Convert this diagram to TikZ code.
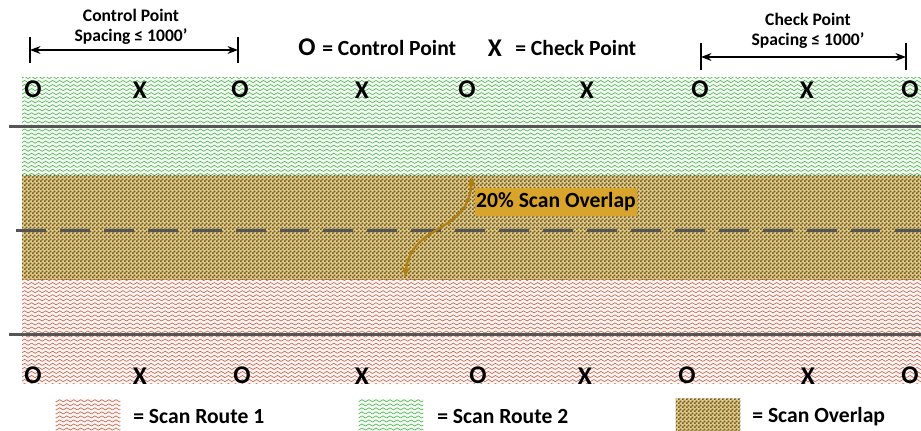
\documentclass[tikz,border=0pt]{standalone}
\usepackage{fontspec}
\setmainfont{Carlito}
\usetikzlibrary{patterns,arrows.meta}

\definecolor{routeone}{HTML}{C0644A}
\definecolor{routetwo}{HTML}{4DB24D}
\definecolor{lapdark}{HTML}{76591A}
\definecolor{laplight}{HTML}{DDCC8E}
\definecolor{lapbox}{HTML}{D9A42C}
\definecolor{lapline}{HTML}{B07F12}
\definecolor{roadgray}{HTML}{555555}

% wavy hatching of the scan routes
\pgfdeclarepatternformonly{waves}{\pgfpoint{-1pt}{-1pt}}{\pgfpoint{5pt}{3.4pt}}{\pgfpoint{4pt}{2.3pt}}{%
  \pgfsetlinewidth{0.35pt}
  \pgfpathmoveto{\pgfpoint{0pt}{0.5pt}}
  \pgfpathlineto{\pgfpoint{2pt}{1.7pt}}
  \pgfpathlineto{\pgfpoint{4pt}{0.5pt}}
  \pgfusepath{stroke}}
% checkerboard of the overlap
\pgfdeclarepatternformonly{checker}{\pgfpointorigin}{\pgfpoint{2.3pt}{2.3pt}}{\pgfpoint{2.3pt}{2.3pt}}{%
  \pgfpathrectangle{\pgfpointorigin}{\pgfpoint{1.15pt}{1.15pt}}
  \pgfpathrectangle{\pgfpoint{1.15pt}{1.15pt}}{\pgfpoint{1.15pt}{1.15pt}}
  \pgfusepath{fill}}

\tikzset{
  route/.style={fill=#1!7, postaction={pattern=waves, pattern color=#1}},
  overlap/.style={fill=laplight, postaction={pattern=checker, pattern color=lapdark}},
  road/.style={draw=roadgray, line width=1.7pt},
  ptmark/.style={font=\bfseries\fontsize{14.5}{14.5}\selectfont, inner sep=0pt},
  legtext/.style={font=\bfseries\fontsize{12.3}{13}\selectfont, anchor=west, inner sep=0pt},
  dimtext/.style={font=\bfseries\fontsize{10}{11.3}\selectfont, align=center, inner sep=0pt},
  dimline/.style={{Stealth[length=6pt,width=4.5pt]}-{Stealth[length=6pt,width=4.5pt]}, line width=0.6pt},
  swatch/.style={minimum width=36.8pt, minimum height=18.7pt, inner sep=0pt},
}

\begin{document}
\begin{tikzpicture}[x=0.02cm, y=-0.02cm]
    \useasboundingbox[fill=white] (0,0) rectangle (921,431);
    % scan bands
    \path[route=routetwo] (22,78) rectangle (921,176);
    \path[overlap] (22,176) rectangle (921,280);
    \path[route=routeone] (22,280) rectangle (921,384);
    % road lines
    \draw[road] (9,127) -- (921,127);
    \draw[road] (9,335) -- (921,335);
    \draw[road, dash pattern=on 17 off 8, dash phase=-4] (9,231) -- (921,231);
    % control and check points
    \foreach \x [count=\i] in {33,240,467,700,910}
        \node[ptmark] (ctop\i) at (\x,89) {O};
    \foreach \x [count=\i] in {140,362,587,807}
        \node[ptmark] (ktop\i) at (\x,90) {X};
    \foreach \x [count=\i] in {33,242,478,687,910}
        \node[ptmark] (cbot\i) at (\x,375) {O};
    \foreach \x [count=\i] in {140,362,585,808}
        \node[ptmark] (kbot\i) at (\x,376) {X};
    % key at the top
    \node[ptmark] (keyo) at (307,47) {O};
    \node[legtext] (keyotext) at (322,48) {= Control Point};
    \node[ptmark] (keyx) at (495,48) {X};
    \node[legtext] (keyxtext) at (515,48) {= Check Point};
    % spacing dimensions
    \node[dimtext] (ctrlspace) at (131,27) {Control Point\\Spacing ≤ 1000’};
    \coordinate (cl1) at (30,37);  \coordinate (cl2) at (30,63);
    \coordinate (cr1) at (238,37); \coordinate (cr2) at (238,63);
    \coordinate (ca) at (30,50);   \coordinate (cb) at (238,50);
    \draw[line width=0.6pt] (cl1) -- (cl2) (cr1) -- (cr2);
    \draw[dimline] (ca) -- (cb);
    \node[dimtext] (chkspace) at (808,31) {Check Point\\Spacing ≤ 1000’};
    \coordinate (kl1) at (701,43); \coordinate (kl2) at (701,70);
    \coordinate (kr1) at (906,43); \coordinate (kr2) at (906,70);
    \coordinate (ka) at (701,57);  \coordinate (kb) at (906,57);
    \draw[line width=0.6pt] (kl1) -- (kl2) (kr1) -- (kr2);
    \draw[dimline] (ka) -- (kb);
    % overlap callout
    \node[fill=lapbox, minimum width=92pt, minimum height=16.4pt, inner sep=0pt,
          font=\bfseries\fontsize{12.3}{12.5}\selectfont] (laplabel) at (556,202) {20\% Scan Overlap};
    \coordinate (laptop) at (472,177);
    \coordinate (lapbot) at (405,277);
    \draw[lapline, line width=1.3pt, {Stealth[length=6pt,width=5pt]}-{Stealth[length=6pt,width=5pt]}]
        (laptop) .. controls (468,235) and (412,222) .. (lapbot);
    % key at the bottom
    \node[swatch, route=routeone] (sw1) at (88,415) {};
    \node[legtext] (sw1text) at (133,417) {= Scan Route 1};
    \node[swatch, route=routetwo] (sw2) at (391,415) {};
    \node[legtext] (sw2text) at (437,417) {= Scan Route 2};
    \node[swatch, overlap] (sw3) at (708,415) {};
    \node[legtext] (sw3text) at (752,417) {= Scan Overlap};
\end{tikzpicture}
\end{document}
